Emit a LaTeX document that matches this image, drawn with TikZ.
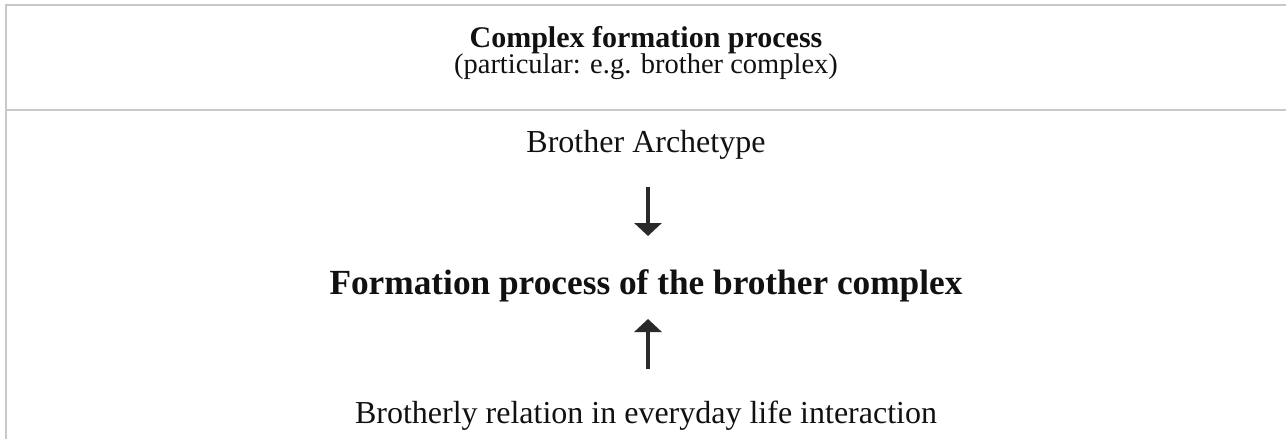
\documentclass[tikz,border=0pt]{standalone}
\usepackage{fontspec}
\setmainfont{Liberation Serif}
\usetikzlibrary{arrows.meta}
\definecolor{rule}{HTML}{C8C8C8}
\definecolor{arr}{HTML}{2A2A2A}
\definecolor{ink}{HTML}{111111}
\tikzset{
  rulel/.style={draw=rule, line width=1.5pt},
  txt/.style={anchor=base, inner sep=0pt, text=ink},
  arrowline/.style={draw=arr, line width=4pt, -{Triangle[width=27pt,length=13pt]}},
}
\begin{document}
\begin{tikzpicture}[x=1pt,y=-1pt]
\useasboundingbox (0,0) rectangle (1286,439);
\coordinate (tl) at (6,5);
\coordinate (tr) at (1286,5);
\coordinate (ml) at (6,110);
\coordinate (mr) at (1286,110);
\coordinate (bl) at (6,439);
\draw[rulel] (5,5) -- (tr);
\draw[rulel] (ml) -- (mr);
\draw[rulel] (tl) -- (bl);
\node[txt, font=\fontsize{30}{34}\selectfont\bfseries] (title) at (646,47) {Complex formation process};
\node[txt, font=\fontsize{28.5}{34}\selectfont] (sub) at (646,73) {(particular: e.g. brother complex)};
\node[txt, font=\fontsize{32}{38}\selectfont] (arch) at (646,152) {Brother Archetype};
\node[txt, font=\fontsize{35.3}{40}\selectfont\bfseries] (form) at (646,294) {Formation process of the brother complex};
\node[txt, font=\fontsize{32}{38}\selectfont] (rel) at (646,423) {Brotherly relation in everyday life interaction};
\draw[arrowline, shorten <=35pt, shorten >=58pt] ([xshift=2pt]arch.base) -- ([xshift=2pt]form.base);
\draw[arrowline, shorten <=54pt, shorten >=25pt] ([xshift=2pt]rel.base) -- ([xshift=2pt]form.base);
\end{tikzpicture}
\end{document}
